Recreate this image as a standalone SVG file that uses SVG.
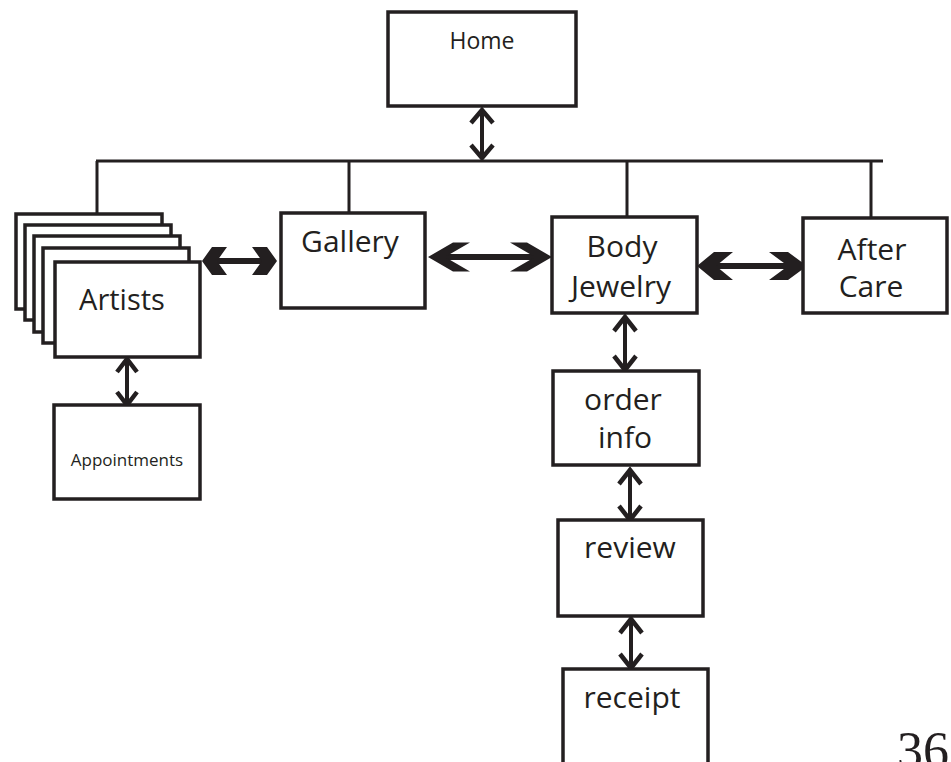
<svg xmlns="http://www.w3.org/2000/svg" width="951" height="762" viewBox="0 0 951 762">
<style>
.box{fill:#fff;stroke:#231f20;stroke-width:3.5}
.ln{fill:none;stroke:#231f20;stroke-width:3}
.sh{fill:none;stroke:#231f20;stroke-width:6}
.vs{fill:none;stroke:#231f20;stroke-width:4}
.vh{fill:none;stroke:#231f20;stroke-width:4.5;stroke-linejoin:miter}
.hd{fill:#231f20}
.t{font-family:"Open Sans","Noto Sans",sans-serif;fill:#231f20;text-anchor:middle;font-size:30px}
</style>
<rect width="951" height="762" fill="#fff"/>
<g id="connectors">
<path class="ln" d="M96,161H883M97,161V214M349,161V213M627,161V217M871,161V218"/>
<path class="vs" d="M482,110V156"/>
<path class="vh" d="M471,123L482,110L493,123M471,145L482,158L493,145"/>
<path class="vs" d="M127,359V403"/>
<path class="vh" d="M117,372L127,359L137,372M117,392L127,405L137,392"/>
<path class="vs" d="M625,317V368"/>
<path class="vh" d="M614,331L625,317L636,331M614,356L625,370L636,356"/>
<path class="vs" d="M630,470V518"/>
<path class="vh" d="M619,484L630,470L641,484M619,506L630,520L641,506"/>
<path class="vs" d="M631,619V666"/>
<path class="vh" d="M620,633L631,619L642,633M620,654L631,668L642,654"/>
<path class="sh" d="M208,261H271"/>
<polygon class="hd" points="202,261 212,247 227,247 217,261 227,275 212,275"/>
<polygon class="hd" points="277,261 267,247 252,247 262,261 252,275 267,275"/>
<path class="sh" d="M436,257H544"/>
<polygon class="hd" points="428,257 453,242.5 470,242.5 445,257 470,271.5 453,271.5"/>
<polygon class="hd" points="552,257 527,242.5 510,242.5 535,257 510,271.5 527,271.5"/>
<path class="sh" d="M704,266H800"/>
<polygon class="hd" points="697,266 714,252 733,252 716,266 733,280 714,280"/>
<polygon class="hd" points="807,266 788,252 769,252 788,266 769,280 788,280"/>
</g>
<g id="home">
<rect class="box" x="388" y="12" width="188" height="94"/>
<text class="t" x="482" y="49" style="font-size:23px">Home</text>
</g>
<g id="artists">
<rect class="box" x="16" y="214" width="146" height="95"/>
<rect class="box" x="25" y="225" width="146" height="95"/>
<rect class="box" x="34" y="236" width="146" height="96"/>
<rect class="box" x="43" y="248" width="146" height="95"/>
<rect class="box" x="55" y="262" width="145" height="95"/>
<text class="t" x="122" y="310" style="font-size:29px">Artists</text>
</g>
<g id="appointments">
<rect class="box" x="54" y="405" width="146" height="94"/>
<text class="t" x="127" y="466" style="font-size:17px">Appointments</text>
</g>
<g id="gallery">
<rect class="box" x="281" y="213" width="144" height="95"/>
<text class="t" x="350" y="252">Gallery</text>
</g>
<g id="body-jewelry">
<rect class="box" x="552" y="217" width="145" height="96"/>
<text class="t" x="622" y="257">Body</text>
<text class="t" x="621" y="297">Jewelry</text>
</g>
<g id="after-care">
<rect class="box" x="803" y="218" width="144" height="95"/>
<text class="t" x="872" y="260">After</text>
<text class="t" x="871" y="297">Care</text>
</g>
<g id="order-info">
<rect class="box" x="553" y="371" width="146" height="94"/>
<text class="t" x="623" y="410">order</text>
<text class="t" x="625" y="448">info</text>
</g>
<g id="review">
<rect class="box" x="558" y="520" width="145" height="96"/>
<text class="t" x="630" y="558">review</text>
</g>
<g id="receipt">
<path class="box" d="M563,775V669H708V775"/>
<text class="t" x="632" y="708">receipt</text>
</g>
<text x="897" y="768" style="font-family:'Liberation Serif',serif;font-size:52px;fill:#231f20">36</text>
</svg>
